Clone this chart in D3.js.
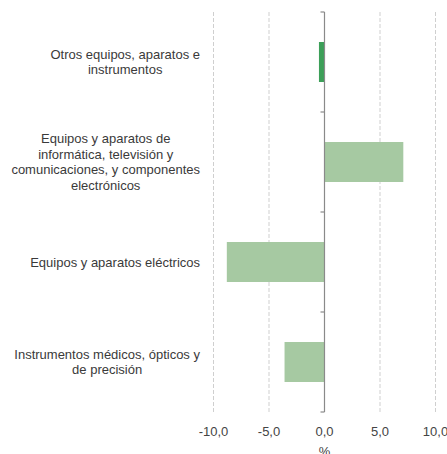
<!DOCTYPE html>
<html><head><meta charset="utf-8">
<script src="https://cdn.jsdelivr.net/npm/d3@7"></script>
<style>body{margin:0;background:#fff}svg{display:block;font-family:"Liberation Sans",Arial,sans-serif}</style>
</head><body>
<svg id="c" width="447" height="454"></svg>
<script>
const categories = [
  ["Otros equipos, aparatos e", "instrumentos"],
  ["Equipos y aparatos de", "informática, televisión y", "comunicaciones, y componentes", "electrónicos"],
  ["Equipos y aparatos eléctricos"],
  ["Instrumentos médicos, ópticos y", "de precisión"]
];
const values = [-0.5, 7.1, -8.8, -3.6];
const colors = ["#3c9f58", "#a6c9a2", "#a6c9a2", "#a6c9a2"];
const xTicks = [-10, -5, 0, 5, 10];
const xTitle = "%";

const svg = d3.select("#c");
const x = d3.scaleLinear().domain([-10, 10]).range([213.5, 435.5]);
const ids = categories.map((d, i) => i);
const y = d3.scaleBand().domain(ids).range([12, 412]).paddingInner(0.6).paddingOuter(0.3);

// grid
svg.append("g").selectAll("line").data(xTicks.filter(t => t !== 0)).join("line")
  .attr("x1", d => x(d)).attr("x2", d => x(d)).attr("y1", 12).attr("y2", 412)
  .attr("stroke", "#cfcfcf").attr("stroke-width", 1).attr("stroke-dasharray", "4,2");

// bars
svg.append("g").selectAll("rect").data(values).join("rect")
  .attr("x", d => x(Math.min(0, d))).attr("width", d => Math.abs(x(d) - x(0)))
  .attr("y", (d, i) => y(i)).attr("height", y.bandwidth())
  .attr("fill", (d, i) => colors[i]);

// axis line and category ticks
const ax = svg.append("g").attr("stroke", "#8a8a8a").attr("stroke-width", 1.2);
ax.append("line").attr("x1", x(0)).attr("x2", x(0)).attr("y1", 12).attr("y2", 412);
const bounds = [12, 112, 212, 312, 412];
ax.selectAll("line.t").data(bounds).join("line").attr("class", "t")
  .attr("x1", x(0) - 4).attr("x2", x(0)).attr("y1", d => d).attr("y2", d => d);

// x tick labels
const fmt = d => d3.format(".1f")(d).replace(".", ",").replace("−", "-");
svg.append("g").selectAll("text").data(xTicks).join("text")
  .attr("x", d => x(d)).attr("y", 436).attr("text-anchor", "middle")
  .attr("font-size", 13).attr("fill", "#444").text(fmt);
svg.append("text").attr("x", x(0)).attr("y", 456).attr("text-anchor", "middle")
  .attr("font-size", 13).attr("fill", "#444").text(xTitle);

// category labels: lines centered, block right-aligned
const lh = 15.5;
categories.forEach((lines, i) => {
  const g = svg.append("g");
  const t = g.append("text").attr("font-size", 13).attr("fill", "#3a3a3a").attr("text-anchor", "middle");
  const cy = y(i) + y.bandwidth() / 2;
  const y0 = cy - (lines.length - 1) * lh / 2 + 4.5;
  lines.forEach((l, j) => t.append("tspan").attr("y", y0 + j * lh).text(l));
  let maxW = 0;
  t.selectAll("tspan").each(function () { maxW = Math.max(maxW, this.getComputedTextLength()); });
  const cx = 200 - maxW / 2;
  t.selectAll("tspan").attr("x", cx);
});
</script>
</body></html>
